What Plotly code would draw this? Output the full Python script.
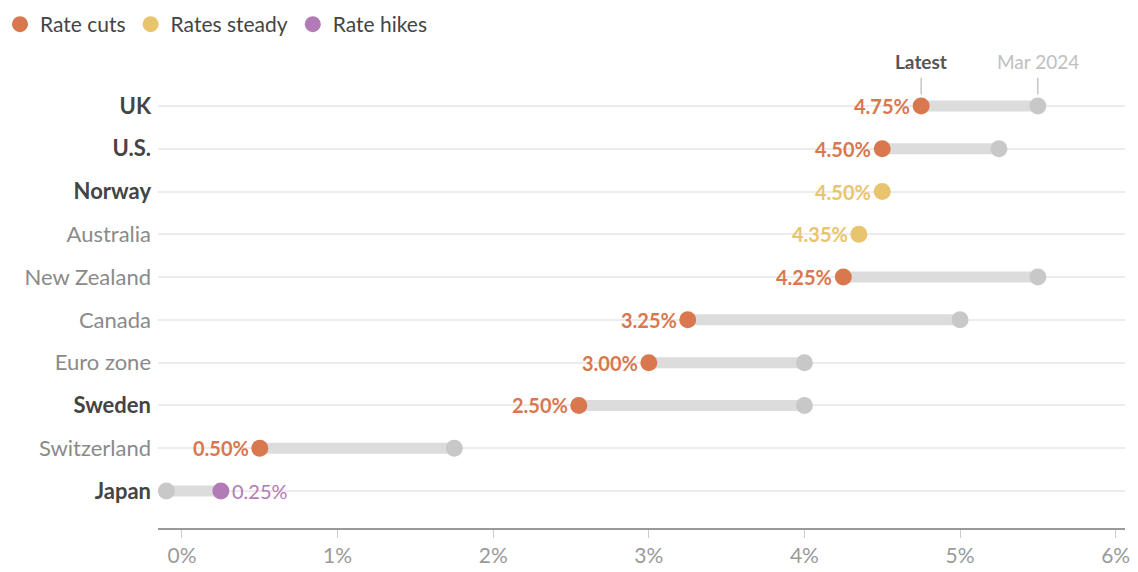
import plotly.graph_objects as go

countries = ["UK", "U.S.", "Norway", "Australia", "New Zealand", "Canada",
             "Euro zone", "Sweden", "Switzerland", "Japan"]
bold_rows = [True, True, True, False, False, False, False, True, False, True]
latest = [4.75, 4.50, 4.50, 4.35, 4.25, 3.25, 3.00, 2.55, 0.50, 0.25]
mar2024 = [5.50, 5.25, 4.50, 4.35, 5.50, 5.00, 4.00, 4.00, 1.75, -0.10]
latest_labels = ["4.75%", "4.50%", "4.50%", "4.35%", "4.25%", "3.25%",
                 "3.00%", "2.50%", "0.50%", "0.25%"]
status = ["cut", "cut", "steady", "steady", "cut", "cut", "cut", "cut", "cut", "hike"]
x_ticks = [0, 1, 2, 3, 4, 5, 6]
x_tick_labels = ["0%", "1%", "2%", "3%", "4%", "5%", "6%"]

colors = {"cut": "#d9774f", "steady": "#e9c46e", "hike": "#b27ab6"}
names = {"cut": "Rate cuts", "steady": "Rates steady", "hike": "Rate hikes"}
FONT = "Lato"

fig = go.Figure()
ys = list(range(len(countries)))

# connectors
for i in ys:
    if mar2024[i] != latest[i]:
        fig.add_trace(go.Scatter(x=[mar2024[i], latest[i]], y=[i, i], mode="lines",
                                 line=dict(color="#dcdcdc", width=11),
                                 showlegend=False, hoverinfo="skip"))
# Mar 2024 dots
fig.add_trace(go.Scatter(x=[mar2024[i] for i in ys if mar2024[i] != latest[i]],
                         y=[i for i in ys if mar2024[i] != latest[i]], mode="markers",
                         marker=dict(color="#c8c8c8", size=17),
                         showlegend=False, hoverinfo="skip"))
# latest dots
for key in ["cut", "steady", "hike"]:
    idx = [i for i in ys if status[i] == key]
    fig.add_trace(go.Scatter(x=[latest[i] for i in idx], y=idx, mode="markers",
                             marker=dict(color=colors[key], size=17),
                             name=names[key], showlegend=False))
    fig.add_trace(go.Scatter(x=[None], y=[None], mode="markers",
                             marker=dict(color=colors[key], size=16),
                             name=names[key], showlegend=True))

# value labels
for i in ys:
    right = status[i] == "hike"
    txt = latest_labels[i] if right else f"<b>{latest_labels[i]}</b>"
    fig.add_annotation(x=latest[i], y=i, text=txt, showarrow=False,
                       xanchor="left" if right else "right", yanchor="middle",
                       xshift=9 if right else -9,
                       font=dict(family=FONT, size=20, color=colors[status[i]]))

# header annotations
fig.add_annotation(x=latest[0], y=1.018, yref="paper", text="<b>Latest</b>", showarrow=False,
                   yanchor="middle", font=dict(family=FONT, size=19, color="#555555"))
fig.add_annotation(x=mar2024[0], y=1.018, yref="paper", text="Mar 2024", showarrow=False,
                   yanchor="middle", font=dict(family=FONT, size=19, color="#c0c0c0"))
fig.add_shape(type="line", x0=latest[0], x1=latest[0], y0=-0.66, y1=-0.27,
              line=dict(color="#aaaaaa", width=1))
fig.add_shape(type="line", x0=mar2024[0], x1=mar2024[0], y0=-0.66, y1=-0.27,
              line=dict(color="#aaaaaa", width=1))

ticktext = []
for c, b in zip(countries, bold_rows):
    if b:
        ticktext.append(f"<b><span style='color:#444444'>{c}</span></b>")
    else:
        ticktext.append(f"<span style='color:#8a8a8a'>{c}</span>")

fig.update_layout(
    width=1138, height=572,
    margin=dict(l=158, r=13, t=70, b=44, autoexpand=False),
    plot_bgcolor="white", paper_bgcolor="white",
    font=dict(family=FONT, size=20, color="#444444"),
    legend=dict(orientation="h", xref="container", yref="container",
                x=-0.002, y=0.993, xanchor="left", yanchor="top",
                font=dict(family=FONT, size=21, color="#444444"),
                itemsizing="trace", itemwidth=30, tracegroupgap=0),
    xaxis=dict(range=[-0.154, 6.06], tickvals=x_ticks, ticktext=x_tick_labels,
               showgrid=False, zeroline=False, showline=True, linecolor="#999999",
               linewidth=2, ticks="outside", ticklen=8, tickcolor="#cccccc",
               tickfont=dict(family=FONT, size=21, color="#9a9a9a"), fixedrange=True,
               automargin=False),
    yaxis=dict(range=[9.865, -0.84], tickvals=ys, ticktext=ticktext,
               showgrid=True, gridcolor="#ececec", gridwidth=1.5, zeroline=False,
               ticks="", ticklabelstandoff=6, automargin=False,
               tickfont=dict(family=FONT, size=22), fixedrange=True),
    showlegend=True,
)

fig.write_html("out.html", config={"displayModeBar": False},
               post_script="document.body.style.margin='0';document.body.style.overflow='hidden';")
